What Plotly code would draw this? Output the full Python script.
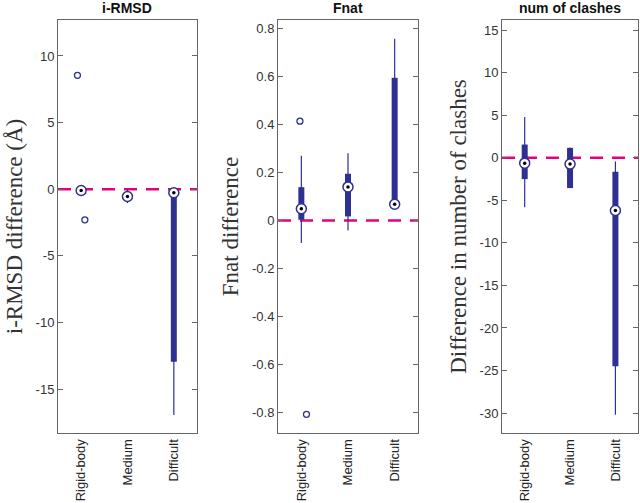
import plotly.graph_objects as go

categories = ["Rigid-body", "Medium", "Difficult"]

# i-RMSD
rmsd_lo = [-0.45, -1.05, -16.95]
rmsd_q1 = [-0.3, -0.8, -12.95]
rmsd_med = [-0.1, -0.55, -0.27]
rmsd_q3 = [0.0, -0.3, -0.15]
rmsd_hi = [0.0, 0.0, -0.1]
rmsd_out_cat = [1, 1]
rmsd_out_val = [8.55, -2.3]
rmsd_out_jit = [-0.08, 0.08]

# Fnat
fnat_lo = [-0.094, -0.042, 0.065]
fnat_q1 = [0.003, 0.017, 0.068]
fnat_med = [0.049, 0.14, 0.068]
fnat_q3 = [0.139, 0.195, 0.595]
fnat_hi = [0.27, 0.28, 0.758]
fnat_out_cat = [1, 1]
fnat_out_val = [0.414, -0.808]
fnat_out_jit = [-0.03, 0.11]

# clashes
cl_lo = [-5.8, -3.56, -30.2]
cl_q1 = [-2.5, -3.56, -24.5]
cl_med = [-0.63, -0.74, -6.2]
cl_q3 = [1.56, 1.17, -1.64]
cl_hi = [4.8, 1.2, -0.43]
cl_out_cat = []
cl_out_val = []
cl_out_jit = []

titles = ["i-RMSD", "Fnat", "num of clashes"]
ytitles = ["i-RMSD difference (Å)", "Fnat difference", "Difference in number of clashes"]
yranges = [[-18.3, 12.7], [-0.886, 0.836], [-32.35, 16.2]]
ytickvals = [[-15, -10, -5, 0, 5, 10],
             [-0.8, -0.6, -0.4, -0.2, 0, 0.2, 0.4, 0.6, 0.8],
             [-30, -25, -20, -15, -10, -5, 0, 5, 10, 15]]
yticktext = [["-15", "-10", "-5", "0", "5", "10"],
             ["-0.8", "-0.6", "-0.4", "-0.2", "0", "0.2", "0.4", "0.6", "0.8"],
             ["-30", "-25", "-20", "-15", "-10", "-5", "0", "5", "10", "15"]]
domains = [[0.0906, 0.3078], [0.4344, 0.6531], [0.7844, 0.997]]
ref_value = 0

BLUE = "#2e3192"
PINK = "#e5007d"

panels = [
    (rmsd_lo, rmsd_q1, rmsd_med, rmsd_q3, rmsd_hi, rmsd_out_cat, rmsd_out_val, rmsd_out_jit),
    (fnat_lo, fnat_q1, fnat_med, fnat_q3, fnat_hi, fnat_out_cat, fnat_out_val, fnat_out_jit),
    (cl_lo, cl_q1, cl_med, cl_q3, cl_hi, cl_out_cat, cl_out_val, cl_out_jit),
]

fig = go.Figure()
pos = [1, 2, 3]
for i, (lo, q1, med, q3, hi, oc, ov, oj) in enumerate(panels):
    xa = "x" if i == 0 else f"x{i+1}"
    ya = "y" if i == 0 else f"y{i+1}"
    wx, wy, bx, by = [], [], [], []
    for p, a, b, c, d in zip(pos, lo, q1, q3, hi):
        wx += [p, p, None]
        wy += [a, d, None]
        bx += [p, p, None]
        by += [b, c, None]
    fig.add_trace(go.Scatter(x=wx, y=wy, mode="lines", line=dict(color=BLUE, width=1.2),
                             xaxis=xa, yaxis=ya, showlegend=False, hoverinfo="skip"))
    fig.add_trace(go.Scatter(x=bx, y=by, mode="lines", line=dict(color=BLUE, width=6),
                             xaxis=xa, yaxis=ya, showlegend=False, hoverinfo="skip"))
    fig.add_trace(go.Scatter(x=pos, y=med, mode="markers",
                             marker=dict(symbol="circle", size=10, color="white",
                                         line=dict(color=BLUE, width=1.5)),
                             xaxis=xa, yaxis=ya, showlegend=False))
    fig.add_trace(go.Scatter(x=pos, y=med, mode="markers",
                             marker=dict(symbol="circle", size=3.5, color="black"),
                             xaxis=xa, yaxis=ya, showlegend=False, hoverinfo="skip"))
    if ov:
        fig.add_trace(go.Scatter(x=[c + j for c, j in zip(oc, oj)], y=ov, mode="markers",
                                 marker=dict(symbol="circle-open", size=6, color=BLUE,
                                             line=dict(width=1.3)),
                                 xaxis=xa, yaxis=ya, showlegend=False))
    fig.add_shape(type="line", xref=f"{xa} domain", yref=ya, x0=0, x1=1, y0=ref_value, y1=ref_value,
                  line=dict(color=PINK, width=2.5, dash="13px,9px"), layer="below")
    xl = "xaxis" if i == 0 else f"xaxis{i+1}"
    yl = "yaxis" if i == 0 else f"yaxis{i+1}"
    fig.update_layout(**{
        xl: dict(domain=domains[i], range=[0.5, 3.5], tickvals=pos, ticktext=categories,
                 tickangle=-90, showgrid=False, zeroline=False, showline=True, mirror=True,
                 linecolor="#666", linewidth=1, ticks="", anchor=ya, automargin=False,
                 tickfont=dict(family="Liberation Sans, Arial", size=13, color="#222")),
        yl: dict(range=yranges[i], tickvals=ytickvals[i], ticktext=yticktext[i],
                 showgrid=False, zeroline=False, showline=True, mirror="ticks",
                 linecolor="#666", linewidth=1, ticks="inside", ticklen=5, tickcolor="#666",
                 anchor=xa, domain=[0, 1], automargin=False,
                 tickfont=dict(family="Liberation Sans, Arial", size=13, color="#333"),
                 title=dict(text=ytitles[i], standoff=6,
                            font=dict(family="Liberation Serif, DejaVu Serif", size=23, color="#333"))),
    })
    fig.add_annotation(text=f"<b>{titles[i]}</b>", xref=f"{xa} domain", yref="paper",
                       x=0.5, y=1.0, yshift=2, yanchor="bottom", showarrow=False,
                       font=dict(family="Liberation Sans, Arial", size=14, color="#111"))

fig.update_layout(width=640, height=503, margin=dict(l=0, r=0, t=20, b=70, autoexpand=False),
                  paper_bgcolor="white", plot_bgcolor="white")
fig.write_html("out.html", config={"displayModeBar": False},
               post_script="document.body.style.margin='0';document.body.style.overflow='hidden';")
